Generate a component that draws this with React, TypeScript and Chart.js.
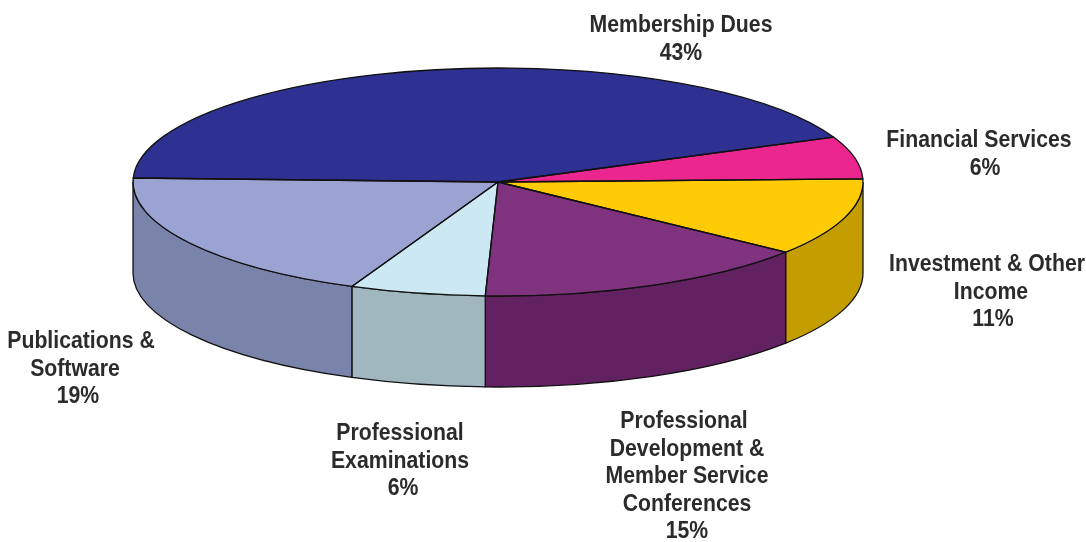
import React, { useEffect, useRef } from "react";
import { Chart, registerables } from "chart.js";

Chart.register(...registerables);

const categories = [
  "Membership Dues",
  "Financial Services",
  "Investment & Other Income",
  "Professional Development & Member Service Conferences",
  "Professional Examinations",
  "Publications & Software",
];
const shares = [43, 6, 11, 15, 6, 19];
const topColors = ["#2E3192", "#EC268F", "#FFCB05", "#7F337F", "#CCE9F3", "#9BA3D3"];
const sideColors = ["#1F2266", "#A31A63", "#C49E00", "#622160", "#A0B7C0", "#7A84AA"];

// Each caption: its lines, centre x, the baseline of the first line, and per-line x nudges.
const captionLines = [
  ["Membership Dues", "43%"],
  ["Financial Services", "6%"],
  ["Investment & Other", "Income", "11%"],
  ["Professional", "Development &", "Member Service", "Conferences", "15%"],
  ["Professional", "Examinations", "6%"],
  ["Publications &", "Software", "19%"],
];
const captionX = [681, 979, 987, 687, 400, 81];
const captionY = [32, 147, 271, 428, 440, 348];
const captionNudge = [
  [0, 0],
  [0, 6],
  [0, 4, 6],
  [-3, 0, 0, 0, 0],
  [0, 0, 3],
  [0, -6, -3],
];
const captionLeading = 27.5;
const captionSqueeze = 0.885;

const RX = 365;
const RY = 114;
const DEPTH = 91;
const TAU = Math.PI * 2;

// Portion of an arc that faces the viewer (the lower half of the ellipse), if any.
function frontSpan(start: number, end: number): [number, number] | null {
  const s = ((start % TAU) + TAU) % TAU;
  const e = s + (end - start);
  for (const shift of [0, -TAU]) {
    const a = Math.max(s + shift, 0);
    const b = Math.min(e + shift, Math.PI);
    if (b > a) return [a, b];
  }
  return null;
}

const tiltedPie = {
  id: "tiltedPie",
  beforeDatasetDraw(chart: any) {
    const ctx = chart.ctx;
    const arcs = chart.getDatasetMeta(0).data;
    const { x, y, outerRadius } = arcs[0];
    ctx.save();
    ctx.lineWidth = 1.3;
    ctx.strokeStyle = "#111";
    arcs.forEach((arc: any, i: number) => {
      const span = frontSpan(arc.startAngle, arc.endAngle);
      if (!span) return;
      ctx.beginPath();
      ctx.ellipse(x, y, RX, RY, 0, span[0], span[1]);
      ctx.ellipse(x, y + DEPTH, RX, RY, 0, span[1], span[0], true);
      ctx.closePath();
      ctx.fillStyle = sideColors[i];
      ctx.fill();
      ctx.stroke();
    });
    ctx.restore();
    // The library fills the slices through this squash about the pie's centre.
    ctx.save();
    ctx.translate(x, y);
    ctx.scale(RX / outerRadius, RY / outerRadius);
    ctx.translate(-x, -y);
  },
  afterDatasetDraw(chart: any) {
    const ctx = chart.ctx;
    ctx.restore();
    const arcs = chart.getDatasetMeta(0).data;
    ctx.save();
    ctx.lineWidth = 1.3;
    ctx.lineJoin = "round";
    ctx.strokeStyle = "#111";
    arcs.forEach((arc: any) => {
      ctx.beginPath();
      ctx.moveTo(arc.x, arc.y);
      ctx.ellipse(arc.x, arc.y, RX, RY, 0, arc.startAngle, arc.endAngle);
      ctx.closePath();
      ctx.stroke();
    });
    ctx.restore();
  },
  afterDraw(chart: any) {
    const ctx = chart.ctx;
    ctx.save();
    ctx.fillStyle = "#2b2b2b";
    ctx.font = 'bold 24px "Liberation Sans", sans-serif';
    ctx.textAlign = "center";
    ctx.textBaseline = "alphabetic";
    captionLines.forEach((lines, i) => {
      lines.forEach((line, j) => {
        ctx.save();
        ctx.translate(captionX[i] + captionNudge[i][j], captionY[i] + j * captionLeading);
        ctx.scale(captionSqueeze, 1);
        ctx.fillText(line, 0, 0);
        ctx.restore();
      });
    });
    ctx.restore();
  },
};

export default function App() {
  const canvasRef = useRef<HTMLCanvasElement>(null);

  useEffect(() => {
    const chart = new Chart(canvasRef.current!, {
      type: "pie",
      data: {
        labels: categories,
        datasets: [
          {
            data: shares,
            backgroundColor: topColors,
            borderWidth: 0,
            clip: false,
          } as any,
        ],
      },
      options: {
        responsive: false,
        animation: false,
        rotation: -88,
        layout: { padding: { left: 0, top: 0, right: 90, bottom: 178 } },
        plugins: {
          legend: { display: false },
          tooltip: { enabled: false },
        },
      },
      plugins: [tiltedPie],
    });
    return () => chart.destroy();
  }, []);

  return (
    <div style={{ position: "absolute", left: 0, top: 0, width: 1086, height: 542, background: "#fff" }}>
      <canvas ref={canvasRef} width={1086} height={542} style={{ display: "block" }} />
    </div>
  );
}
